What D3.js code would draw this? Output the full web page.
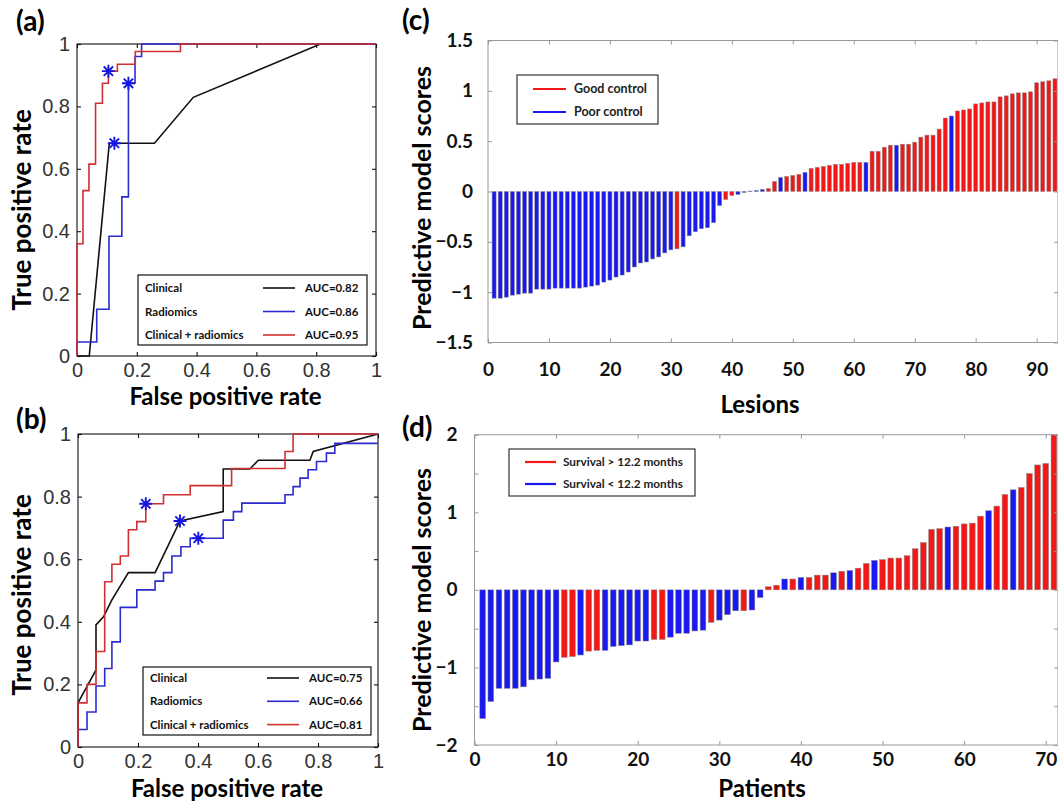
<!DOCTYPE html>
<html>
<head>
<meta charset="utf-8">
<script src="https://cdn.jsdelivr.net/npm/d3@7/dist/d3.min.js"></script>
<style>
  body { margin: 0; background: #fff; }
  svg { display: block; }
</style>
</head>
<body>
<svg id="fig" width="1058" height="801"></svg>
<script>
'use strict'

// ROC curves, points are [false positive rate, true positive rate]
const aClinical = [[0, 0], [0.041, 0], [0.108, 0.682], [0.259, 0.682], [0.389, 0.829], [0.814, 1], [1, 1]]
const aRadiomics = [[0, 0], [0, 0.045], [0.066, 0.045], [0.066, 0.15], [0.107, 0.15], [0.107, 0.384], [0.15, 0.384],
  [0.15, 0.51], [0.172, 0.51], [0.172, 0.874], [0.194, 0.874], [0.194, 0.96], [0.216, 0.96], [0.216, 1], [1, 1]]
const aCombined = [[0, 0], [0, 0.36], [0.02, 0.36], [0.02, 0.53], [0.04, 0.53], [0.04, 0.615], [0.062, 0.615],
  [0.062, 0.81], [0.085, 0.81], [0.085, 0.874], [0.105, 0.874], [0.105, 0.913], [0.135, 0.913], [0.135, 0.935],
  [0.195, 0.935], [0.195, 0.976], [0.346, 0.976], [0.346, 1], [1, 1]]
const aStars = [[0.105, 0.913], [0.172, 0.874], [0.125, 0.682]]
const aAuc = [0.82, 0.86, 0.95]

const bClinical = [[0, 0], [0, 0.141], [0.06, 0.246], [0.06, 0.39], [0.085, 0.416], [0.113, 0.47], [0.168, 0.557],
  [0.257, 0.557], [0.34, 0.722], [0.484, 0.752], [0.484, 0.888], [0.573, 0.888], [0.601, 0.916], [0.773, 0.916],
  [0.784, 0.944], [1, 1]]
const bRadiomics = [[0, 0], [0, 0.056], [0.03, 0.056], [0.03, 0.112], [0.06, 0.112], [0.06, 0.195], [0.089, 0.195],
  [0.089, 0.251], [0.113, 0.251], [0.113, 0.336], [0.141, 0.336], [0.141, 0.446], [0.196, 0.446], [0.196, 0.502],
  [0.257, 0.502], [0.257, 0.53], [0.285, 0.53], [0.285, 0.557], [0.313, 0.557], [0.313, 0.61], [0.343, 0.61],
  [0.343, 0.64], [0.374, 0.64], [0.374, 0.667], [0.484, 0.667], [0.484, 0.725], [0.518, 0.725], [0.518, 0.752],
  [0.546, 0.752], [0.546, 0.779], [0.69, 0.779], [0.69, 0.806], [0.717, 0.806], [0.717, 0.832], [0.74, 0.832],
  [0.74, 0.859], [0.767, 0.859], [0.767, 0.886], [0.795, 0.886], [0.795, 0.912], [0.828, 0.912], [0.828, 0.939],
  [0.856, 0.939], [0.856, 0.97], [1, 0.97]]
const bCombined = [[0, 0], [0, 0.141], [0.03, 0.141], [0.03, 0.2], [0.06, 0.2], [0.06, 0.305], [0.089, 0.305],
  [0.089, 0.528], [0.113, 0.528], [0.113, 0.584], [0.141, 0.584], [0.141, 0.61], [0.168, 0.61], [0.168, 0.694],
  [0.196, 0.694], [0.196, 0.72], [0.226, 0.72], [0.226, 0.777], [0.285, 0.777], [0.285, 0.806], [0.374, 0.806],
  [0.374, 0.835], [0.512, 0.835], [0.512, 0.89], [0.69, 0.89], [0.69, 0.944], [0.717, 0.944], [0.717, 1], [1, 1]]
const bStars = [[0.226, 0.777], [0.34, 0.722], [0.401, 0.667]]
const bAuc = [0.75, 0.66, 0.81]

const rocNames = ['Clinical', 'Radiomics', 'Clinical + radiomics']
const rocTicks = [0, 0.2, 0.4, 0.6, 0.8, 1]

// (c) lesion scores, sorted, 1 = good control
const lesionScores = [
  -1.06, -1.06, -1.05, -1.03, -1.02, -1.01, -1.01, -0.97, -0.97, -0.97,
  -0.96, -0.96, -0.96, -0.96, -0.96, -0.95, -0.94, -0.93, -0.90, -0.88,
  -0.85, -0.83, -0.80, -0.75, -0.71, -0.70, -0.67, -0.65, -0.61, -0.58,
  -0.57, -0.55, -0.44, -0.40, -0.37, -0.36, -0.31, -0.14, -0.08, -0.04,
  -0.03, -0.01, 0.005, 0.01, 0.02, 0.03, 0.10, 0.14, 0.15, 0.16,
  0.17, 0.19, 0.23, 0.24, 0.25, 0.26, 0.27, 0.27, 0.28, 0.29,
  0.29, 0.29, 0.40, 0.40, 0.44, 0.46, 0.46, 0.47, 0.47, 0.49,
  0.54, 0.56, 0.56, 0.62, 0.73, 0.75, 0.80, 0.81, 0.82, 0.87,
  0.88, 0.89, 0.89, 0.94, 0.95, 0.97, 0.98, 0.98, 0.99, 1.08,
  1.09, 1.10, 1.12
]
const lesionGood = [
  0, 0, 0, 0, 0, 0, 0, 0, 0, 0,
  0, 0, 0, 0, 0, 0, 0, 0, 0, 0,
  0, 0, 0, 0, 0, 0, 0, 0, 0, 0,
  1, 0, 0, 0, 0, 0, 0, 0, 1, 1,
  0, 0, 0, 0, 0, 1, 1, 0, 1, 1,
  1, 0, 1, 1, 1, 1, 1, 1, 1, 1,
  1, 0, 1, 1, 1, 1, 0, 1, 1, 1,
  1, 1, 1, 1, 1, 0, 1, 1, 1, 1,
  1, 1, 1, 1, 1, 1, 1, 1, 1, 1,
  1, 1, 1
]
const lesionNames = ['Good control', 'Poor control']
const lesionXTicks = [0, 10, 20, 30, 40, 50, 60, 70, 80, 90]
const lesionYTicks = [-1.5, -1, -0.5, 0, 0.5, 1, 1.5]

// (d) patient scores, sorted, 1 = survival > 12.2 months
const patientScores = [
  -1.66, -1.44, -1.27, -1.27, -1.27, -1.25, -1.16, -1.15, -1.14, -0.93,
  -0.87, -0.86, -0.84, -0.79, -0.78, -0.78, -0.73, -0.72, -0.71, -0.66,
  -0.66, -0.64, -0.64, -0.61, -0.56, -0.56, -0.53, -0.52, -0.42, -0.39,
  -0.32, -0.27, -0.27, -0.26, -0.10, 0.04, 0.06, 0.14, 0.14, 0.16,
  0.16, 0.19, 0.19, 0.22, 0.24, 0.25, 0.28, 0.34, 0.38, 0.39,
  0.41, 0.41, 0.44, 0.53, 0.61, 0.78, 0.79, 0.81, 0.82, 0.85,
  0.86, 0.95, 1.02, 1.08, 1.23, 1.29, 1.32, 1.50, 1.61, 1.63,
  2.0
]
const patientGood = [
  0, 0, 0, 0, 0, 0, 0, 0, 0, 0,
  1, 1, 0, 1, 1, 0, 0, 0, 0, 0,
  0, 1, 1, 0, 0, 0, 0, 0, 1, 0,
  0, 0, 1, 0, 0, 1, 1, 0, 1, 0,
  1, 1, 1, 0, 1, 0, 1, 1, 0, 1,
  1, 1, 1, 1, 1, 1, 1, 0, 1, 1,
  1, 1, 0, 1, 1, 0, 1, 1, 1, 1,
  1
]
const patientNames = ['Survival > 12.2 months', 'Survival < 12.2 months']
const patientXTicks = [0, 10, 20, 30, 40, 50, 60, 70]
const patientYTicks = [-2, -1.5, -1, -0.5, 0, 0.5, 1, 1.5, 2]

const svg = d3.select('#fig')
const labelFont = 'Lato, "Open Sans", sans-serif'
const matFont = '"Liberation Sans", Arial, sans-serif'
const rocColors = ['#111111', '#2b2bd0', '#d03030']
const barRed = '#f21818'
const barBlue = '#1a1af0'
const fmt = d3.format('~g')

function starPath (r) {
  const k = r * 0.72
  return `M${-r},0H${r}M0,${-r}V${r}M${-k},${-k}L${k},${k}M${-k},${k}L${k},${-k}`
}

function addAxes (g, x, y, o) {
  const [x0, x1] = x.range()
  const [y1, y0] = y.range()
  g.append('rect')
    .attr('x', x0).attr('y', y0)
    .attr('width', x1 - x0).attr('height', y1 - y0)
    .attr('fill', 'none')
    .attr('stroke', o.frame)
    .attr('stroke-width', o.frameW)
  const sides = [
    [d3.axisBottom(x), `translate(0,${y1})`, o.xTicks, o.xFmt, o.xPad],
    [d3.axisTop(x), `translate(0,${y0})`, o.xTicks, () => '', 0],
    [d3.axisLeft(y), `translate(${x0},0)`, o.yTicks, o.yFmt, o.yPad],
    [d3.axisRight(y), `translate(${x1},0)`, o.yTicks, () => '', 0]
  ]
  sides.forEach(([axis, tr, ticks, f, pad]) => {
    const a = g.append('g')
      .attr('transform', tr)
      .call(axis.tickValues(ticks).tickSize(-o.tick).tickPadding(pad).tickFormat(f))
    a.select('.domain').remove()
    a.selectAll('line').attr('stroke', o.frame).attr('stroke-width', o.frameW)
    a.selectAll('text')
      .attr('font-family', o.tickFont)
      .attr('font-size', o.tickSize)
      .attr('font-weight', o.tickWeight)
      .attr('fill', o.tickColor)
  })
}

function drawRoc (o) {
  const x = d3.scaleLinear().domain([0, 1]).range([o.x0, o.x1])
  const y = d3.scaleLinear().domain([0, 1]).range([o.y1, o.y0])
  const g = svg.append('g')

  addAxes(g, x, y, {
    frame: '#111', frameW: 1.1, tick: 4,
    xTicks: rocTicks, yTicks: rocTicks, xFmt: fmt, yFmt: fmt, xPad: 7, yPad: 7,
    tickFont: matFont, tickSize: 20, tickWeight: 'normal', tickColor: '#333'
  })

  const line = d3.line().x(d => x(d[0])).y(d => y(d[1]))
  o.curves.forEach((pts, i) => {
    g.append('path')
      .attr('d', line(pts))
      .attr('fill', 'none')
      .attr('stroke', rocColors[i])
      .attr('stroke-width', 1.6)
  })

  g.selectAll('path.star')
    .data(o.stars)
    .join('path')
    .attr('class', 'star')
    .attr('transform', d => `translate(${x(d[0])},${y(d[1])})`)
    .attr('d', starPath(6.5))
    .attr('stroke', '#1616e0')
    .attr('stroke-width', 1.9)

  // legend
  const L = o.legend
  const lg = g.append('g').attr('transform', `translate(${L.x},${L.y})`)
  lg.append('rect')
    .attr('width', L.w).attr('height', L.h)
    .attr('fill', '#fff').attr('stroke', '#111').attr('stroke-width', 1.2)
  const row = lg.selectAll('g.row')
    .data(rocNames)
    .join('g')
    .attr('transform', (d, i) => `translate(0,${L.first + i * L.step})`)
  row.append('text')
    .attr('x', 7)
    .attr('font-family', labelFont).attr('font-weight', 'bold').attr('font-size', 11.5)
    .attr('fill', '#111')
    .text(d => d)
  row.append('line')
    .attr('x1', L.lineX).attr('x2', L.lineX + 32)
    .attr('y1', -4).attr('y2', -4)
    .attr('stroke', (d, i) => rocColors[i]).attr('stroke-width', 1.6)
  row.append('text')
    .attr('x', L.lineX + 42)
    .attr('font-family', labelFont).attr('font-weight', 'bold').attr('font-size', 11.5)
    .attr('fill', '#111')
    .text((d, i) => `AUC=${o.auc[i].toFixed(2)}`)

  // titles
  g.append('text')
    .attr('x', (o.x0 + o.x1) / 2 - 1).attr('y', o.xTitleY)
    .attr('text-anchor', 'middle')
    .attr('font-family', labelFont).attr('font-weight', 'bold').attr('font-size', 24)
    .text('False positive rate')
  g.append('text')
    .attr('transform', `translate(31,${o.yTitleY}) rotate(-90)`)
    .attr('text-anchor', 'middle')
    .attr('font-family', labelFont).attr('font-weight', 'bold').attr('font-size', 26)
    .text('True positive rate')
  g.append('text')
    .attr('x', 16).attr('y', o.tagY)
    .attr('font-family', labelFont).attr('font-weight', 'bold').attr('font-size', 28)
    .text(o.tag)
}

function drawBars (o) {
  const x = d3.scaleLinear().domain([0, o.xMax]).range([o.x0, o.x1])
  const y = d3.scaleLinear().domain(o.yDomain).range([o.y1, o.y0])
  const g = svg.append('g')
  const bw = (x(1) - x(0)) * o.barFrac

  g.selectAll('rect.bar')
    .data(o.scores)
    .join('rect')
    .attr('class', 'bar')
    .attr('x', (d, i) => x(i + 1) - bw / 2)
    .attr('y', d => y(Math.max(0, d)))
    .attr('width', bw)
    .attr('height', d => Math.abs(y(d) - y(0)))
    .attr('fill', (d, i) => o.good[i] ? barRed : barBlue)
    .attr('stroke', '#8c8c8c')
    .attr('stroke-width', 0.5)

  addAxes(g, x, y, {
    frame: '#9a9a9a', frameW: 1, tick: 4,
    xTicks: o.xTicks, yTicks: o.yTicks, xFmt: fmt, yFmt: o.yFmt, xPad: o.xPad, yPad: o.yPad,
    tickFont: labelFont, tickSize: 19, tickWeight: 'bold', tickColor: '#111'
  })

  // legend
  const L = o.legend
  const lg = g.append('g').attr('transform', `translate(${L.x},${L.y})`)
  lg.append('rect')
    .attr('width', L.w).attr('height', L.h)
    .attr('fill', '#fff').attr('stroke', '#333').attr('stroke-width', 1.2)
  const row = lg.selectAll('g.row')
    .data(o.names)
    .join('g')
    .attr('transform', (d, i) => `translate(0,${L.first + i * L.step})`)
  row.append('line')
    .attr('x1', 16).attr('x2', 16 + L.lineW)
    .attr('y1', -4).attr('y2', -4)
    .attr('stroke', (d, i) => i === 0 ? barRed : barBlue)
    .attr('stroke-width', 2.2)
  row.append('text')
    .attr('x', L.textX)
    .attr('font-family', labelFont).attr('font-weight', 'bold').attr('font-size', L.fs)
    .attr('fill', '#222')
    .text(d => d)

  g.append('text')
    .attr('x', o.xTitleX).attr('y', o.xTitleY)
    .attr('text-anchor', 'middle')
    .attr('font-family', labelFont).attr('font-weight', 'bold').attr('font-size', 24)
    .text(o.xTitle)
  g.append('text')
    .attr('transform', `translate(431,${o.yTitleY}) rotate(-90)`)
    .attr('text-anchor', 'middle')
    .attr('font-family', labelFont).attr('font-weight', 'bold').attr('font-size', 25)
    .text('Predictive model scores')
  g.append('text')
    .attr('x', 402).attr('y', o.tagY)
    .attr('font-family', labelFont).attr('font-weight', 'bold').attr('font-size', 28)
    .text(o.tag)
}

drawRoc({
  tag: '(a)', tagY: 31,
  x0: 77, x1: 376, y0: 44, y1: 356,
  curves: [aClinical, aRadiomics, aCombined],
  stars: aStars, auc: aAuc,
  legend: { x: 138, y: 275, w: 229, h: 70, first: 17, step: 23.5, lineX: 125 },
  xTitleY: 405, yTitleY: 210
})

drawRoc({
  tag: '(b)', tagY: 429,
  x0: 78, x1: 378, y0: 434, y1: 747,
  curves: [bClinical, bRadiomics, bCombined],
  stars: bStars, auc: bAuc,
  legend: { x: 143, y: 667, w: 228, h: 68, first: 15, step: 23.3, lineX: 124 },
  xTitleY: 797, yTitleY: 595
})

drawBars({
  tag: '(c)', tagY: 30,
  x0: 488, x1: 1058, xMax: 93.5,
  y0: 40.5, y1: 342.5, yDomain: [-1.5, 1.5],
  scores: lesionScores, good: lesionGood, names: lesionNames,
  barFrac: 0.66,
  xTicks: lesionXTicks, yTicks: lesionYTicks, yFmt: fmt, xPad: 20, yPad: 15,
  legend: { x: 517, y: 75, w: 141, h: 49, first: 18, step: 23, lineW: 33, textX: 57, fs: 12.5 },
  xTitle: 'Lesions', xTitleX: 760, xTitleY: 413, yTitleY: 198
})

drawBars({
  tag: '(d)', tagY: 437,
  x0: 474.5, x1: 1058, xMax: 71.5,
  y0: 434.7, y1: 745, yDomain: [-2, 2],
  scores: patientScores, good: patientGood, names: patientNames,
  barFrac: 0.7,
  xTicks: patientXTicks, yTicks: patientYTicks,
  yFmt: d => Number.isInteger(d) ? fmt(d) : '', xPad: 8, yPad: 17,
  legend: { x: 509, y: 449, w: 186, h: 47, first: 17, step: 22, lineW: 31, textX: 54, fs: 11.8 },
  xTitle: 'Patients', xTitleX: 762, xTitleY: 797, yTitleY: 600
})
</script>
</body>
</html>
